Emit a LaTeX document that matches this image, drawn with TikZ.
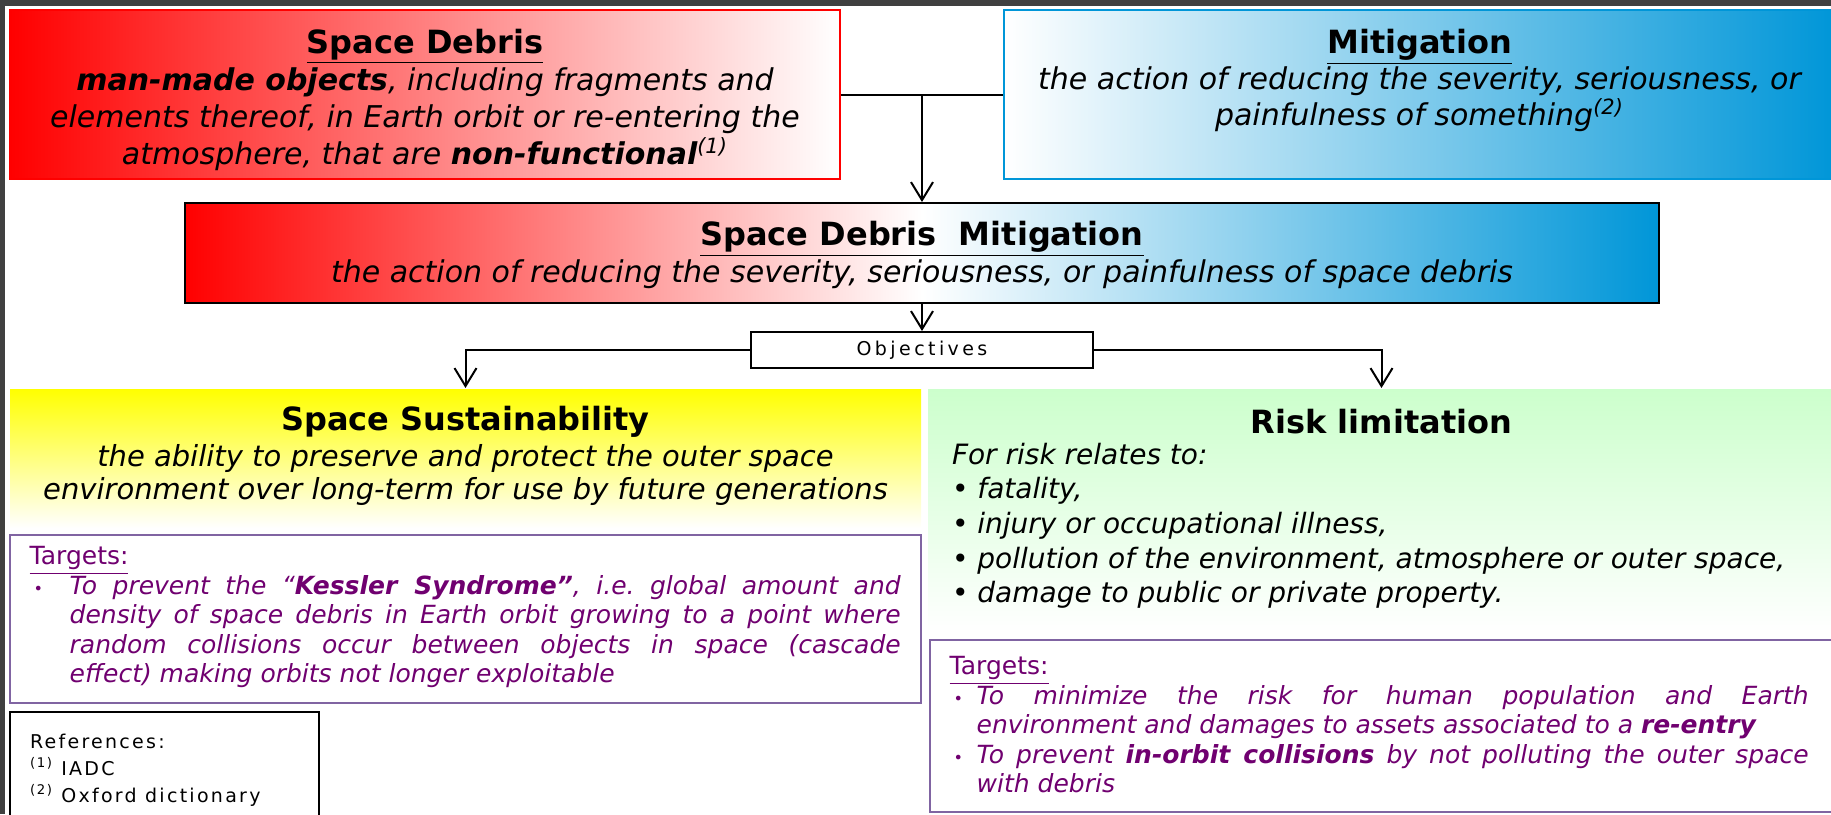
\documentclass[tikz,border=0pt]{standalone}
\usepackage{fontspec}
\setmainfont{DejaVu Sans}
\newfontfamily\spacedfont[LetterSpace=18]{DejaVu Sans}
\newfontfamily\reffont[LetterSpace=12]{DejaVu Sans}
\usetikzlibrary{arrows.meta}
\usetikzlibrary{positioning}
\frenchspacing

\definecolor{debrisred}{RGB}{255,0,0}
\definecolor{mitblue}{RGB}{0,150,216}
\definecolor{sustyellow}{RGB}{255,255,0}
\definecolor{riskgreen}{RGB}{204,255,204}
\definecolor{tgtframe}{RGB}{128,100,162}
\definecolor{tgtink}{RGB}{112,0,112}
\definecolor{edgegray}{RGB}{64,64,64}

\newcommand{\boxhead}[1]{{\fontsize{16}{18.5}\selectfont\bfseries\upshape\underline{#1}}}
\newcommand{\plainhead}[1]{{\fontsize{16}{18.5}\selectfont\bfseries\upshape #1}}
\newcommand{\tgtitem}[1]{\par\hangindent=#1\hangafter=1\noindent\makebox[#1][l]{\hspace{2pt}{\fontsize{8}{8}\selectfont\textbullet}}\ignorespaces}

\begin{document}
\begin{tikzpicture}[x=0.5pt,y=-0.5pt,line width=1pt,>={Straight Barb[length=9pt,width=11pt]},
    panel/.style={inner sep=0pt,line width=1pt},
    bodytext/.style={inner sep=0pt,align=center,font=\fontsize{15}{18.5}\selectfont\itshape},
    tgttext/.style={inner sep=0pt,align=justify,text=tgtink,font=\fontsize{12.5}{14.75}\selectfont\itshape}]

  % screen frame
  \useasboundingbox (0,0) rectangle (1831,814);
  \fill[edgegray] (0,0) rectangle (1831,6);
  \fill[edgegray] (0,0) rectangle (5,814);

  % definitions
  \node[panel,draw=debrisred,left color=debrisred,right color=white,minimum width=415pt,minimum height=84.5pt] (SD) at (425,94.5) {};
  \node[bodytext,below=9.5pt of SD.north] (SDtxt) {\boxhead{Space Debris}\\
    \textbf{man-made objects}, including fragments and\\
    elements thereof, in Earth orbit or re-entering the\\
    atmosphere, that are \textbf{non-functional}\textsuperscript{(1)}};

  \node[panel,draw=mitblue,left color=white,right color=mitblue,minimum width=415.5pt,minimum height=84.5pt] (MIT) at (1419.5,94.5) {};
  \node[bodytext,font=\fontsize{15}{18}\selectfont\itshape,below=9.5pt of MIT.north] (MITtxt) {\boxhead{Mitigation}\\
    the action of reducing the severity, seriousness, or\\
    painfulness of something\textsuperscript{(2)}};

  \node[panel,draw=black,left color=debrisred,right color=mitblue,middle color=white,minimum width=737pt,minimum height=50pt] (SDM) at (922,253) {};
  \node[bodytext,below=9pt of SDM.north] (SDMtxt) {\boxhead{Space Debris\ \ Mitigation}\\
    the action of reducing the severity, seriousness, or painfulness of space debris};

  \node[panel,draw=black,fill=white,minimum width=171pt,minimum height=18pt,font=\spacedfont\fontsize{9.5}{11}\selectfont] (OBJ) at (922,350) {Objectives};

  % objectives
  \node[panel,top color=sustyellow,bottom color=white,minimum width=455.5pt,minimum height=69.5pt] (SS) at (465.5,458.5) {};
  \node[bodytext,font=\fontsize{14.5}{16.5}\selectfont\itshape,below=8.5pt of SS.north] (SStxt) {\plainhead{Space Sustainability}\\[1.5pt]
    the ability to preserve and protect the outer space\\
    environment over long-term for use by future generations};

  \node[panel,top color=riskgreen,bottom color=white,minimum width=453.5pt,minimum height=121.5pt] (RL) at (1381.5,510.5) {};
  \node[inner sep=0pt,below=10pt of RL.north] (RLhead) {\plainhead{Risk limitation}};
  \node[inner sep=0pt,align=left,font=\fontsize{14}{17.3}\selectfont\itshape,below right=27pt and 12pt of RL.north west] (RLtxt) {For risk relates to:\\
    • fatality,\\
    • injury or occupational illness,\\
    • pollution of the environment, atmosphere or outer space,\\
    • damage to public or private property.};

  % targets
  \node[panel,draw=tgtframe,fill=white,line width=1.3pt,minimum width=455.5pt,minimum height=84pt] (TSS) at (465.5,619) {};
  \node[tgttext,text width=435.5pt,below right=6pt and 10pt of TSS.north west] (TSStxt) {\underline{\upshape Targets:}%
    \tgtitem{20pt}To prevent the “\textbf{Kessler Syndrome”}, i.e. global amount and\linebreak
    density of space debris in Earth orbit growing to a point where\linebreak
    random collisions occur between objects in space (cascade\linebreak
    effect) making orbits not longer exploitable\par};

  \node[panel,draw=tgtframe,fill=white,line width=1.3pt,minimum width=452.5pt,minimum height=86pt] (TRL) at (1382.5,726) {};
  \node[tgttext,text width=429.5pt,below right=8.5pt and 10pt of TRL.north west] (TRLtxt) {\underline{\upshape Targets:}%
    \tgtitem{13.5pt}To minimize the risk for human population and Earth\linebreak
    environment and damages to assets associated to a \textbf{re-entry}%
    \tgtitem{13.5pt}To prevent \textbf{in-orbit collisions} by not polluting the outer space\linebreak
    with debris\par};

  % references
  \node[panel,draw=black,fill=white,minimum width=154.5pt,minimum height=60pt] (REF) at (164.5,772) {};
  \node[inner sep=0pt,align=left,font=\reffont\fontsize{9.5}{13.5}\selectfont,below right=11pt and 10pt of REF.north west] (REFtxt) {References:\\
    \textsuperscript{(1)} IADC\\
    \textsuperscript{(2)} Oxford dictionary};

  % connectors
  \draw (SD.east) -- (MIT.west);
  \draw[->] (SD.east -| SDM.north) -- (SDM.north);
  \draw[->] (SDM.south) -- (OBJ.north);
  \draw[->] (OBJ.west) -| (SS.north);
  \draw[->] (OBJ.east) -| (RL.north);
\end{tikzpicture}
\end{document}
